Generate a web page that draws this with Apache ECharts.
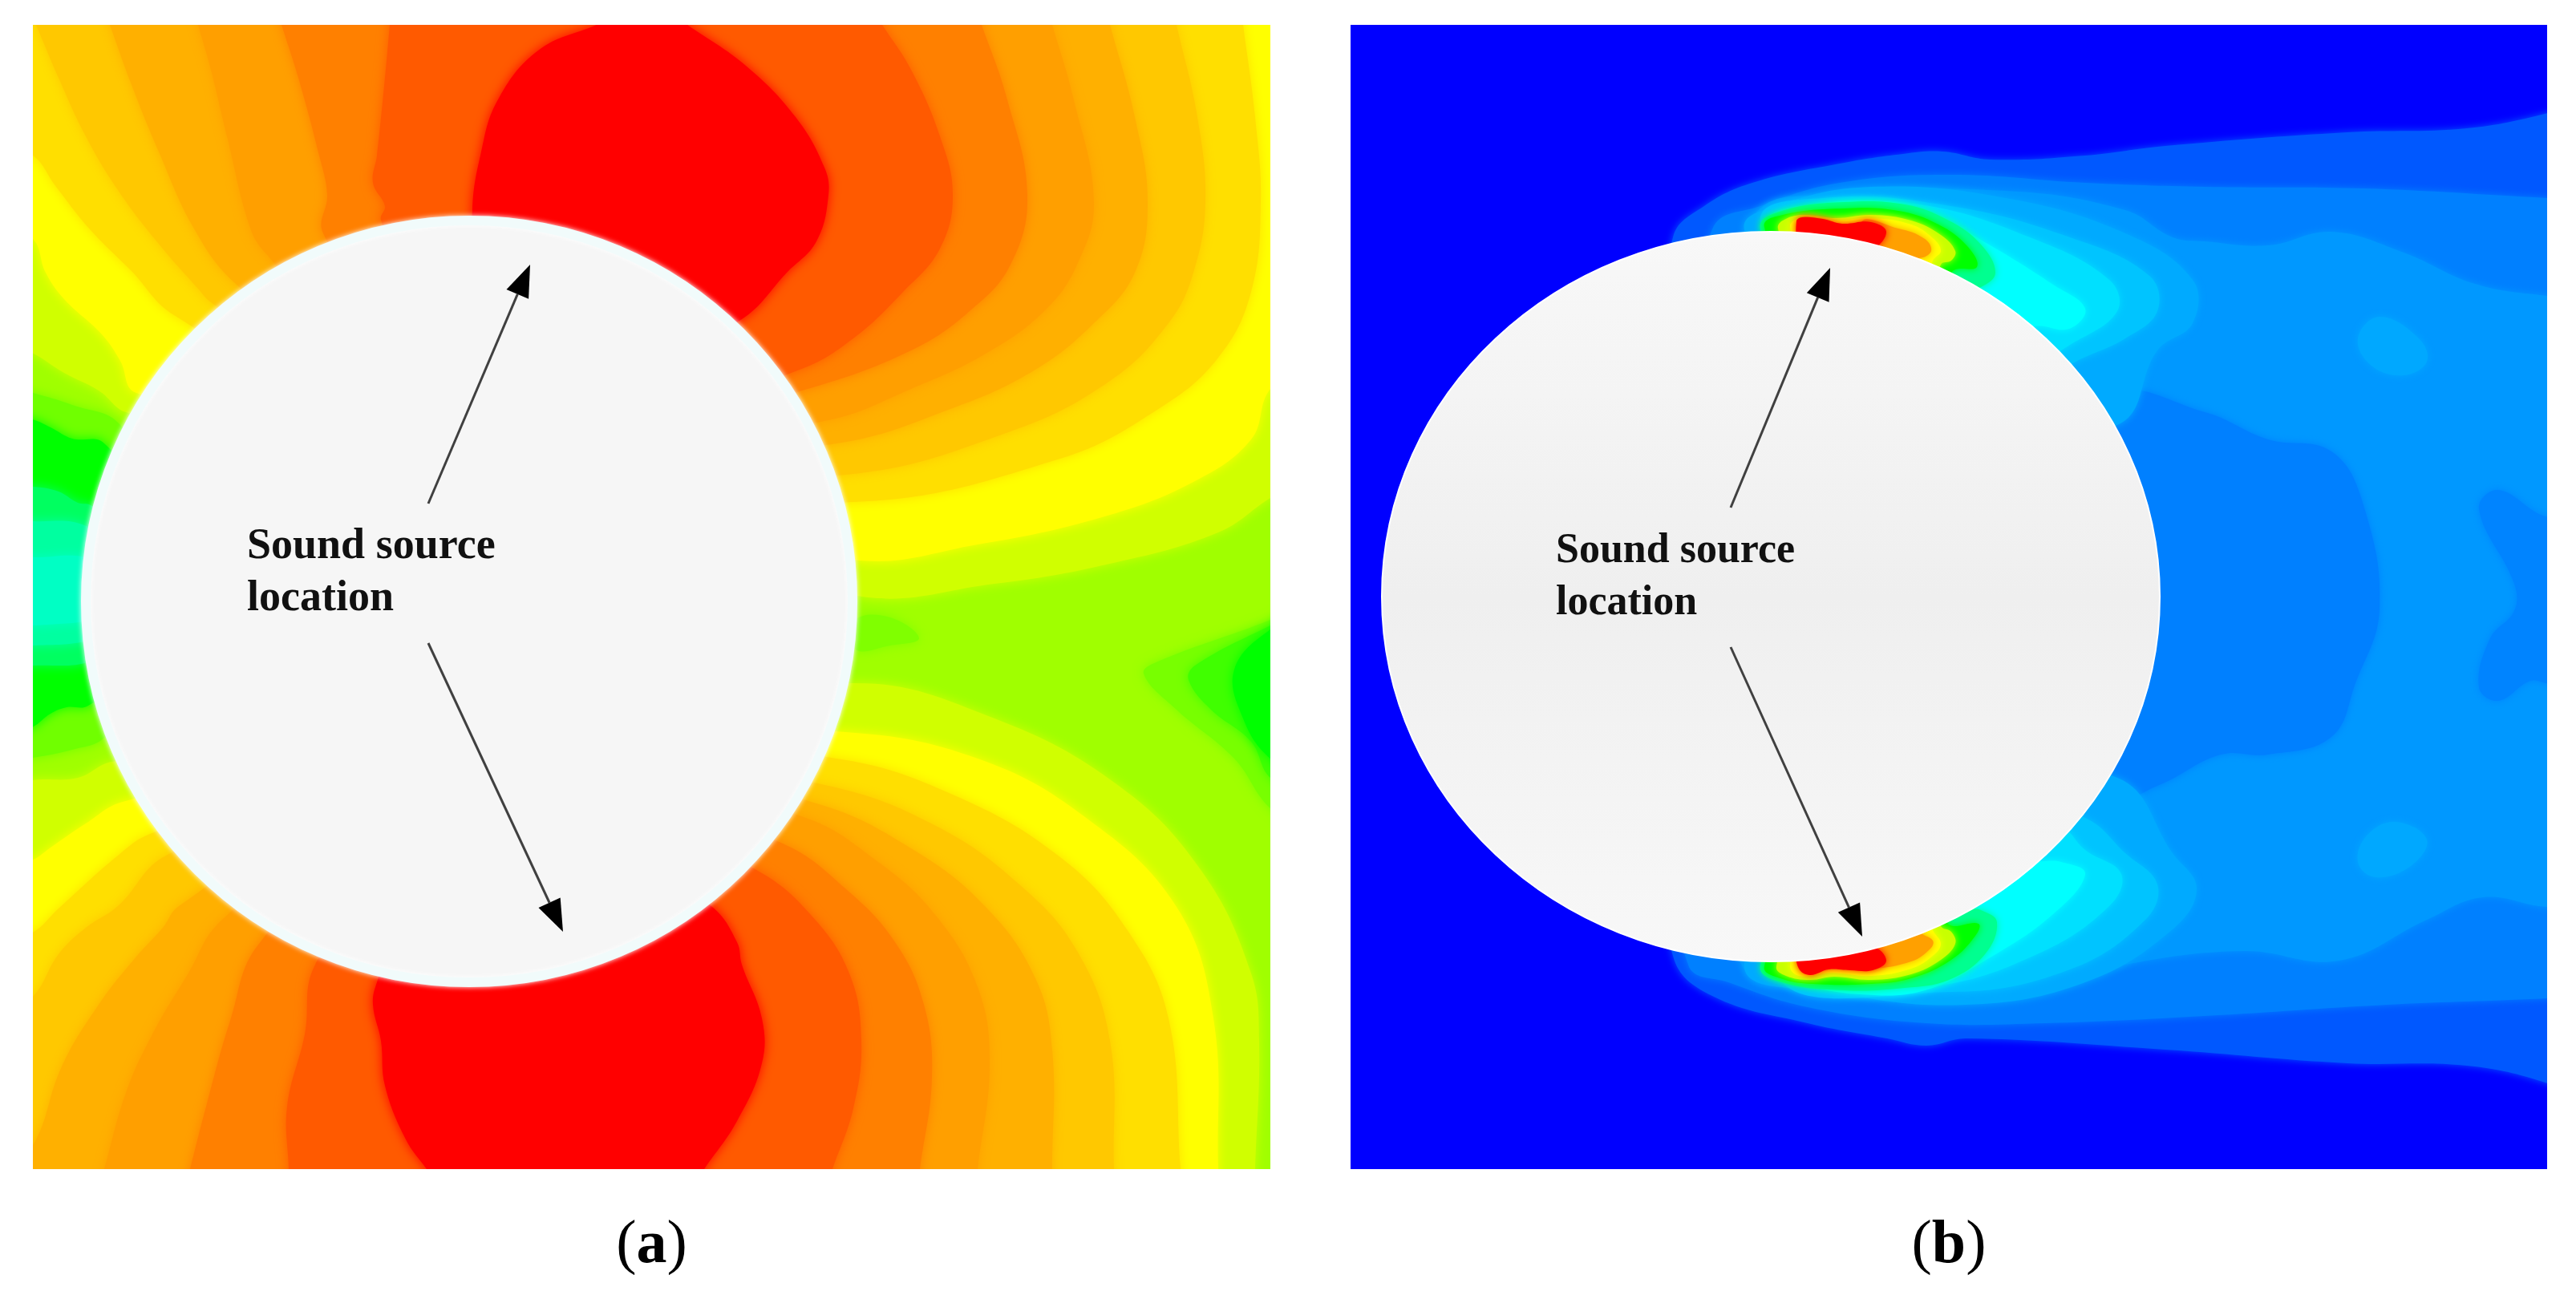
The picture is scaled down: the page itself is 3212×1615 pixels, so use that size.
<!DOCTYPE html>
<html>
<head>
<meta charset="utf-8">
<style>html,body{margin:0;background:#fff}#main{width:3212px;height:1615px}</style>
<script src="https://cdn.jsdelivr.net/npm/echarts@6/dist/echarts.min.js"></script>
</head>
<body>
<div id="main"></div>
<script>
// contour lines, in picture pixels
// panel a, top lobe: left side down to the circle, through the circle, right side back up
const aTopRed = [[744,31],[671,63],[620,126],[599,194],[589,262],[585,600],[925,398],[981,340],[1018,301],[1033,243],[1028,209],[992,146],[930,82],[857,31]];
const aTop5a = [[486,31],[480,97],[470,194],[465,228],[480,257],[475,274],[585,600],[997,461],[1064,422],[1126,364],[1172,310],[1188,243],[1172,170],[1136,87],[1100,31]];
const aTop80 = [[351,31],[372,97],[398,194],[408,243],[403,291],[585,600],[1007,485],[1136,437],[1209,388],[1260,330],[1281,243],[1255,121],[1224,31]];
const aTop9f = [[247,31],[263,87],[283,170],[313,287],[335,320],[585,600],[1033,524],[1136,485],[1229,441],[1302,388],[1343,330],[1364,252],[1338,121],[1312,31]];
const aTopB0 = [[137,31],[163,103],[197,187],[243,287],[293,353],[585,600],[1043,553],[1188,509],[1291,461],[1364,403],[1415,340],[1431,252],[1415,146],[1384,31]];
const aTopC8 = [[45,31],[73,97],[107,170],[147,237],[197,303],[247,360],[263,377],[585,600],[1054,592],[1260,538],[1384,475],[1457,403],[1488,340],[1503,252],[1493,146],[1467,31]];
const aTopDf = [[-20,170],[40,193],[70,233],[113,287],[163,337],[217,393],[585,600],[1064,626],[1322,572],[1446,509],[1519,446],[1560,364],[1572,252],[1565,146],[1550,31]];
const aTopFf = [[-20,270],[40,297],[57,340],[80,373],[127,417],[150,450],[170,490],[585,600],[1064,698],[1219,679],[1374,645],[1488,601],[1560,548],[1584,485],[1640,450]];
const aTopD0 = [[-20,415],[40,440],[80,465],[123,487],[160,515],[585,600],[1064,742],[1240,728],[1384,703],[1519,664],[1584,621],[1640,590]];
// panel a, bottom lobe: left side up to the circle, through the circle, right side down
const aBotRed = [[532,1458],[506,1421],[480,1354],[475,1298],[465,1253],[470,1225],[585,900],[888,1131],[919,1175],[925,1203],[950,1270],[950,1326],[919,1398],[878,1458]];
const aBot5a = [[360,1458],[358,1380],[380,1290],[393,1203],[585,900],[945,1086],[1012,1142],[1059,1214],[1074,1298],[1064,1382],[1038,1458]];
const aBot80 = [[237,1458],[257,1380],[287,1273],[323,1177],[585,900],[976,1052],[1054,1108],[1116,1175],[1152,1253],[1162,1343],[1147,1458]];
const aBot9f = [[130,1458],[157,1363],[190,1290],[233,1217],[277,1147],[585,900],[1002,1019],[1095,1075],[1167,1142],[1219,1231],[1234,1326],[1219,1458]];
const aBotB0 = [[-20,1490],[40,1430],[77,1330],[123,1253],[170,1193],[203,1157],[223,1130],[585,900],[1018,1002],[1136,1058],[1229,1131],[1291,1220],[1312,1309],[1312,1458]];
const aBotC8 = [[-20,1290],[41,1243],[73,1190],[107,1157],[147,1130],[207,1067],[585,900],[1033,980],[1167,1030],[1271,1103],[1343,1186],[1384,1298],[1389,1458]];
const aBotDf = [[-20,1190],[41,1163],[73,1133],[147,1067],[187,1040],[585,900],[1043,946],[1188,991],[1322,1069],[1405,1159],[1457,1270],[1472,1458]];
const aBotFf = [[-20,1095],[40,1073],[63,1057],[107,1027],[153,1000],[585,900],[1054,913],[1219,946],[1353,1019],[1467,1131],[1513,1270],[1519,1458]];
const aBotD0 = [[-20,985],[40,973],[97,970],[140,950],[585,900],[1064,852],[1240,896],[1395,980],[1498,1086],[1560,1214],[1570,1298],[1565,1458]];
// panel a, the greener patches left and right of the circle
const aLeft70 = [[-20,475],[41,490],[90,505],[150,530],[300,750],[130,920],[90,935],[41,945],[-20,955]];
const aLeft00 = [[-20,510],[40,523],[63,533],[90,547],[130,553],[300,750],[110,880],[83,882],[63,890],[40,907],[-20,930]];
const aLeft60 = [[-20,605],[41,607],[73,613],[97,627],[113,630],[300,750],[113,825],[41,830],[-20,832]];
const aLeftA0 = [[-20,648],[41,650],[105,655],[300,750],[105,800],[41,805],[-20,807]];
const aLeftC8 = [[-20,693],[41,695],[108,695],[300,750],[108,775],[41,780],[-20,782]];
const aRight70 = [[1640,745],[1584,773],[1446,824],[1426,840],[1467,885],[1539,946],[1584,1008],[1640,1040]];
const aRight40 = [[1640,755],[1584,780],[1490,830],[1482,848],[1510,885],[1560,925],[1584,970],[1640,1000]];
const aRight00 = [[1640,760],[1584,785],[1539,835],[1550,896],[1584,946],[1640,975]];
const aBlob70 = [[1067,773],[1110,770],[1146,796],[1110,805],[1067,810]];

// panel b, whole wake bands
const bWake1 = [[2086,296],[2125,257],[2185,228],[2294,204],[2373,192],[2422,189],[2482,199],[2600,194],[2700,182],[2927,165],[3076,160],[3177,141],[3240,120],[3240,1380],[3177,1351],[3076,1329],[2927,1326],[2700,1309],[2452,1295],[2402,1304],[2353,1295],[2254,1276],[2135,1242],[2086,1192],[2000,744]];
const bWake2 = [[2135,286],[2195,257],[2294,228],[2432,218],[2600,228],[2749,233],[2947,235],[3177,247],[3240,250],[3240,1240],[3177,1245],[2977,1253],[2749,1267],[2551,1276],[2402,1276],[2254,1256],[2155,1225],[2105,1203],[2000,744]];
const bWake3 = [[2185,272],[2304,243],[2501,238],[2650,262],[2709,296],[2749,301],[2828,306],[2907,289],[2997,315],[3086,354],[3177,369],[3240,372],[3240,1125],[3177,1131],[3096,1119],[3026,1147],[2917,1198],[2798,1186],[2650,1203],[2551,1231],[2432,1242],[2274,1231],[2175,1209],[2000,744]];
const bHoleNear = [[2633,497],[2749,514],[2828,548],[2907,563],[2947,630],[2967,760],[2937,852],[2907,919],[2828,941],[2769,941],[2690,980],[2640,991],[2500,740]];
const bHoleEdge = [[3240,640],[3177,645],[3115,611],[3091,635],[3135,728],[3135,762],[3105,796],[3091,857],[3115,874],[3155,849],[3177,852],[3240,852]];
const bBlobTop = [[2967,395],[3016,422],[3026,451],[2997,468],[2957,456],[2940,422]];
const bBlobBot = [[2987,1025],[3026,1047],[3006,1080],[2962,1094],[2940,1075],[2952,1041]];
// panel b, rings round the two hot spots
const bTop4 = [[2175,286],[2214,257],[2333,233],[2501,247],[2650,291],[2734,349],[2734,403],[2690,437],[2640,530],[2300,600]];
const bTop5 = [[2195,276],[2274,247],[2432,257],[2581,296],[2680,344],[2690,388],[2650,422],[2590,450],[2300,600]];
const bTop6 = [[2200,284],[2254,255],[2393,255],[2531,296],[2630,349],[2640,388],[2581,430],[2300,600]];
const bTop7 = [[2210,280],[2240,262],[2320,250],[2400,262],[2480,305],[2560,355],[2600,385],[2580,410],[2530,410],[2300,600]];
const bTop8 = [[2195,285],[2222,263],[2300,252],[2375,255],[2430,275],[2470,305],[2488,340],[2470,358],[2450,360],[2300,600]];
const bTop9 = [[2200,283],[2223,268],[2300,260],[2367,263],[2417,280],[2453,307],[2465,333],[2433,340],[2300,600]];
const bTop10 = [[2217,285],[2223,275],[2247,268],[2290,272],[2333,268],[2383,275],[2420,293],[2438,313],[2433,325],[2420,330],[2300,600]];
const bTop11 = [[2232,283],[2247,272],[2290,275],[2333,272],[2383,280],[2410,297],[2420,313],[2410,325],[2300,600]];
const bTop12 = [[2320,280],[2367,285],[2400,298],[2408,313],[2393,322],[2340,320],[2300,600]];
const bTop13 = [[2240,276],[2247,271],[2273,273],[2297,279],[2333,277],[2352,289],[2335,310],[2300,305],[2245,300]];
const bBot4 = [[2175,1203],[2284,1237],[2452,1253],[2600,1225],[2709,1159],[2739,1108],[2709,1064],[2640,970],[2300,900]];
const bBot5 = [[2214,1212],[2432,1237],[2581,1209],[2675,1147],[2690,1103],[2650,1064],[2600,1020],[2300,900]];
const bBot6 = [[2200,1204],[2270,1225],[2410,1230],[2540,1190],[2630,1130],[2645,1090],[2600,1060],[2570,1030],[2300,900]];
const bBot7 = [[2210,1207],[2240,1225],[2320,1240],[2400,1235],[2480,1195],[2560,1140],[2600,1090],[2570,1075],[2530,1070],[2300,900]];
const bBot8 = [[2195,1204],[2222,1225],[2300,1235],[2375,1232],[2430,1222],[2475,1190],[2490,1150],[2470,1135],[2450,1130],[2300,900]];
const bBot9 = [[2200,1205],[2220,1220],[2260,1227],[2333,1227],[2383,1220],[2433,1197],[2463,1167],[2467,1152],[2427,1150],[2300,900]];
const bBot10 = [[2215,1205],[2227,1217],[2257,1222],[2287,1218],[2333,1222],[2383,1215],[2420,1197],[2438,1177],[2433,1162],[2420,1155],[2300,900]];
const bBot11 = [[2232,1203],[2243,1217],[2283,1213],[2333,1217],[2383,1208],[2410,1192],[2420,1177],[2410,1160],[2300,900]];
const bBot12 = [[2320,1195],[2330,1207],[2383,1199],[2407,1183],[2410,1173],[2393,1160],[2300,900]];
const bBot13 = [[2243,1190],[2243,1208],[2257,1216],[2280,1209],[2307,1210],[2335,1210],[2352,1198],[2335,1180],[2300,1185]];

const circleA = [585, 750, 478, 475];
const circleB = [2208, 744, 485, 455];
const arrowsA = [[534,628,661,330],[534,802,702,1162]];
const arrowsB = [[2158,633,2282,334],[2158,807,2322,1168]];
const noteLines = ["Sound source", "location"];
const notePosA = [[308,682],[308,747]];
const notePosB = [[1940,688],[1940,753]];

// top lobes get closed above the panel, bottom lobes below it,
// each end carried on a little along its own direction first
function stretch(from, to, dist) {
  const len = Math.hypot(to[0] - from[0], to[1] - from[1]);
  return [to[0] + ((to[0] - from[0]) / len) * dist, to[1] + ((to[1] - from[1]) / len) * dist];
}
function cap(p, y) {
  const first = stretch(p[1], p[0], 45);
  const last = stretch(p[p.length - 2], p[p.length - 1], 45);
  return [[first[0], y], first, ...p, last, [last[0], y]];
}
const capTop = (p) => cap(p, -80);
const capBot = (p) => cap(p, 1560);

const bandsA = [
  ["#70ff00",aLeft70],["#00ff00",aLeft00],["#00ff60",aLeft60],["#00ffa0",aLeftA0],["#00ffc4",aLeftC8],
  ["#78ff00",aRight70],["#40ff00",aRight40],["#00ff00",aRight00],["#80ff00",aBlob70],
  ["#d0ff00",capTop(aTopD0)],["#d0ff00",capBot(aBotD0)],
  ["#ffff00",capTop(aTopFf)],["#ffff00",capBot(aBotFf)],
  ["#ffdf00",capTop(aTopDf)],["#ffdf00",capBot(aBotDf)],
  ["#ffc800",capTop(aTopC8)],["#ffc800",capBot(aBotC8)],
  ["#ffb000",capTop(aTopB0)],["#ffb000",capBot(aBotB0)],
  ["#ff9f00",capTop(aTop9f)],["#ff9f00",capBot(aBot9f)],
  ["#ff8000",capTop(aTop80)],["#ff8000",capBot(aBot80)],
  ["#ff5a00",capTop(aTop5a)],["#ff5a00",capBot(aBot5a)],
  ["#ff0000",capTop(aTopRed)],["#ff0000",capBot(aBotRed)],
];
const bandsB = [
  ["#0058ff",bWake1],["#0080ff",bWake2],["#0098ff",bWake3],["#0080ff",bHoleNear],["#0084ff",bHoleEdge],
  ["#00a8ff",bBlobTop],["#00a8ff",bBlobBot],
  ["#00aaff",bTop4],["#00aaff",bBot4],["#00c4ff",bTop5],["#00c4ff",bBot5],["#00e0ff",bTop6],["#00e0ff",bBot6],
  ["#00ffff",bTop7],["#00ffff",bBot7],["#00ff90",bTop8],["#00ff90",bBot8],["#00ff00",bTop9],["#00ff00",bBot9],
  ["#c8ff00",bTop10],["#c8ff00",bBot10],["#ffff00",bTop11],["#ffff00",bBot11],["#ffa000",bTop12],["#ffa000",bBot12],
  ["#ff0000",bTop13],["#ff0000",bBot13],
];

function bandSeries(bands, gridIndex, blur) {
  return {
    type: "custom", xAxisIndex: gridIndex, yAxisIndex: gridIndex, clip: true, silent: true,
    data: bands.map((b, i) => [i]),
    renderItem(params, api) {
      const b = bands[params.dataIndex];
      return {
        type: "polygon",
        shape: { points: b[1].map((p) => api.coord(p)), smooth: 0.4 },
        style: { fill: b[0], shadowBlur: blur, shadowColor: b[0] },
      };
    },
  };
}

function circleSeries(c, gridIndex, fill, rim, rimWidth, glow) {
  return {
    type: "custom", xAxisIndex: gridIndex, yAxisIndex: gridIndex, silent: true,
    data: [c],
    renderItem(params, api) {
      const o = api.coord([api.value(0), api.value(1)]);
      const s = api.size([api.value(2), api.value(3)]);
      return {
        type: "ellipse",
        shape: { cx: o[0], cy: o[1], rx: s[0], ry: s[1] },
        style: { fill: fill, stroke: rim, lineWidth: rimWidth, shadowBlur: glow ? 6 : 0, shadowColor: glow || "transparent" },
      };
    },
  };
}

function arrowSeries(arrows, gridIndex) {
  return {
    type: "custom", xAxisIndex: gridIndex, yAxisIndex: gridIndex, silent: true,
    data: arrows,
    renderItem(params, api) {
      const a = api.coord([api.value(0), api.value(1)]);
      const b = api.coord([api.value(2), api.value(3)]);
      const len = Math.hypot(b[0] - a[0], b[1] - a[1]);
      const ux = (b[0] - a[0]) / len, uy = (b[1] - a[1]) / len;
      const hx = b[0] - ux * 40, hy = b[1] - uy * 40;
      return {
        type: "group",
        children: [
          { type: "line", shape: { x1: a[0], y1: a[1], x2: hx, y2: hy }, style: { stroke: "#404040", lineWidth: 3 } },
          { type: "polygon", shape: { points: [b, [hx - uy * 15, hy + ux * 15], [hx + uy * 15, hy - ux * 15]] }, style: { fill: "#000" } },
        ],
      };
    },
  };
}

function noteSeries(pos, gridIndex, size) {
  return {
    type: "custom", xAxisIndex: gridIndex, yAxisIndex: gridIndex, silent: true,
    data: pos,
    renderItem(params, api) {
      const p = api.coord([api.value(0), api.value(1)]);
      return {
        type: "text",
        style: {
          text: noteLines[params.dataIndex], x: p[0], y: p[1], fill: "#111",
          font: "bold " + size + 'px "Liberation Serif"', textAlign: "left", textVerticalAlign: "middle",
        },
      };
    },
  };
}

function xAxisFor(gridIndex, min, max, letter) {
  return {
    type: "value", gridIndex, min, max,
    axisLine: { show: false }, axisTick: { show: false }, axisLabel: { show: false }, splitLine: { show: false },
    name: "{p|(}{l|" + letter + "}{p|)}", nameLocation: "middle", nameGap: 58,
    nameTextStyle: {
      rich: {
        p: { fontFamily: "Liberation Serif", fontSize: 76, color: "#000" },
        l: { fontFamily: "Liberation Serif", fontSize: 76, fontWeight: "bold", color: "#000" },
      },
    },
  };
}
const yAxisFor = (gridIndex) => ({ type: "value", gridIndex, min: 31, max: 1458, inverse: true, show: false });

const myChart = echarts.init(document.getElementById("main"), null, { renderer: "canvas" });
myChart.setOption({
  animation: false,
  backgroundColor: "#ffffff",
  grid: [
    { left: 41, top: 31, width: 1543, height: 1427, backgroundColor: "#a0ff00", show: true, borderWidth: 0, outerBoundsMode: "none" },
    { left: 1684, top: 31, width: 1492, height: 1427, backgroundColor: "#0000ff", show: true, borderWidth: 0, outerBoundsMode: "none" },
  ],
  xAxis: [xAxisFor(0, 41, 1584, "a"), xAxisFor(1, 1684, 3176, "b")],
  yAxis: [yAxisFor(0), yAxisFor(1)],
  series: [
    bandSeries(bandsA, 0, 14),
    circleSeries(circleA, 0, "#f6f6f6", "#f1fbfb", 12, "#ffffff"),
    arrowSeries(arrowsA, 0),
    noteSeries(notePosA, 0, 54),
    bandSeries(bandsB, 1, 10),
    circleSeries(circleB, 1, {
      type: "linear", x: 0, y: 0, x2: 0, y2: 1,
      colorStops: [{ offset: 0, color: "#f8f8f8" }, { offset: 0.5, color: "#efefef" }, { offset: 1, color: "#f8f8f8" }],
    }, "#ffffff", 2, null),
    arrowSeries(arrowsB, 1),
    noteSeries(notePosB, 1, 52),
  ],
});
</script>
</body>
</html>
